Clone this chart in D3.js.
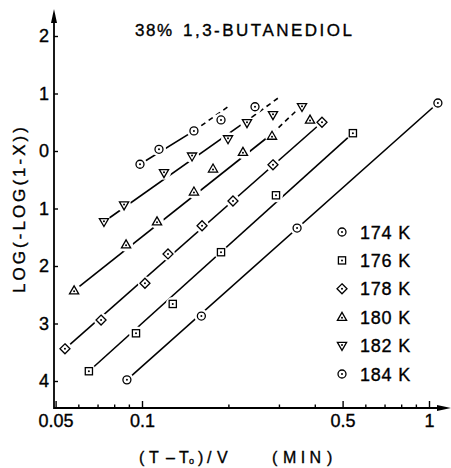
<!DOCTYPE html>
<html lang="en">
<head>
    <meta charset="UTF-8">
    <title>38% 1,3-Butanediol</title>
    <style>
        body { margin: 0; background: #fff; }
        svg { display: block; font-family: "Liberation Sans", Arial, sans-serif; }
        svg text { fill: #000; stroke: #000; stroke-width: 0.35; }
        .axis path.domain { display: none; }
        .axis line { stroke: #000; stroke-width: 1.4; }
        .axis text { font-size: 18px; font-family: "Liberation Sans", Arial, sans-serif; }
        .fit { fill: none; stroke: #000; stroke-width: 1.6; }
        .fit.dash { stroke-dasharray: 5 4; }
        .mark { fill: #fff; stroke: #000; stroke-width: 1.3; }
    </style>
</head>
<body>
    <svg id="chart" width="451" height="468"></svg>

    <script src="https://d3js.org/d3.v7.min.js"></script>
    <script>
        // values
        const temps = ["174 K", "176 K", "178 K", "180 K", "182 K", "184 K"];
        const shapes = ["circle", "square", "diamond", "up", "down", "circle"];

        const x174 = [0.0886, 0.161, 0.347, 1.074];
        const y174 = [-3.98, -2.87, -1.34, 0.835];
        const x176 = [0.0653, 0.0953, 0.128, 0.1885, 0.293, 0.543];
        const y176 = [-3.83, -3.17, -2.66, -1.76, -0.77, 0.31];
        const x178 = [0.0539, 0.072, 0.1024, 0.1232, 0.1619, 0.2075, 0.286, 0.4238];
        const y178 = [-3.44, -2.94, -2.30, -1.79, -1.30, -0.87, -0.24, 0.50];
        const x180 = [0.058, 0.088, 0.1128, 0.1517, 0.1768, 0.2248, 0.2838, 0.385];
        const y180 = [-2.43, -1.63, -1.23, -0.71, -0.31, -0.02, 0.26, 0.54];
        const x182 = [0.0737, 0.0866, 0.1193, 0.1494, 0.1994, 0.2322, 0.286, 0.361];
        const y182 = [-1.23, -0.94, -0.38, -0.09, 0.21, 0.49, 0.63, 0.77];
        const x184 = [0.0984, 0.1146, 0.1517, 0.1885, 0.2476];
        const y184 = [-0.23, 0.03, 0.35, 0.54, 0.77];

        // fitted lines: [x0, y0, x1, y1] solid, optional [x2, y2] dashed extension
        const fit174 = [0.0886, -3.98, 1.074, 0.835];
        const fit176 = [0.0653, -3.83, 0.543, 0.31];
        const fit178 = [0.0539, -3.44, 0.4238, 0.50];
        const fit180 = [0.058, -2.43, 0.2838, 0.30, 0.3467, 0.71];
        const fit182 = [0.0737, -1.23, 0.2416, 0.59, 0.2979, 0.92];
        const fit184 = [0.0984, -0.23, 0.1517, 0.35, 0.1994, 0.77];

        const xTicks = [0.05, 0.1, 0.5, 1];
        const xTickLabels = ["0.05", "0.1", "0.5", "1"];
        const xMinor = [0.06, 0.07, 0.08, 0.09, 0.2, 0.3, 0.4, 0.6, 0.7, 0.8, 0.9];
        const yTicks = [2, 1, 0, -1, -2, -3, -4];
        const yTickLabels = ["2", "1", "0", "1", "2", "3", "4"];

        const series = [
            { x: x174, y: y174, fit: fit174 },
            { x: x176, y: y176, fit: fit176 },
            { x: x178, y: y178, fit: fit178 },
            { x: x180, y: y180, fit: fit180 },
            { x: x182, y: y182, fit: fit182 },
            { x: x184, y: y184, fit: fit184 }
        ];

        const svg = d3.select("#chart");
        const x0 = 54, y0 = 408;

        const x = d3.scaleLog().domain([0.1, 1]).range([142, 429]);
        const y = d3.scaleLinear().domain([-4, 2]).range([381, 36]);

        // axes
        svg.append("g")
            .attr("class", "axis")
            .attr("transform", `translate(0,${y0})`)
            .call(d3.axisBottom(x).tickValues(xMinor).tickSize(-3.5).tickFormat(""));

        svg.append("g")
            .attr("class", "axis")
            .attr("transform", `translate(0,${y0})`)
            .call(d3.axisBottom(x).tickValues(xTicks).tickSize(-7).tickPadding(6)
                .tickFormat((d, i) => xTickLabels[i]));

        svg.append("g")
            .attr("class", "axis")
            .attr("transform", `translate(${x0},0)`)
            .call(d3.axisLeft(y).tickValues(yTicks).tickSize(-4).tickPadding(5)
                .tickFormat((d, i) => yTickLabels[i]));

        svg.append("line").attr("x1", x0).attr("y1", y0).attr("x2", 440).attr("y2", y0)
            .attr("stroke", "#000").attr("stroke-width", 1.8);
        svg.append("line").attr("x1", x0).attr("y1", y0 + 1).attr("x2", x0).attr("y2", 20)
            .attr("stroke", "#000").attr("stroke-width", 1.8);
        svg.append("path").attr("d", `M${x0},9L${x0 + 3},23L${x0 - 3},23Z`).attr("fill", "#000");
        svg.append("path").attr("d", `M451,${y0}L437,${y0 - 3}L437,${y0 + 3}Z`).attr("fill", "#000");

        // fitted lines
        const lines = svg.append("g");
        series.forEach(s => {
            const f = s.fit;
            lines.append("path").attr("class", "fit")
                .attr("d", d3.line()([[x(f[0]), y(f[1])], [x(f[2]), y(f[3])]]));
            if (f.length > 4) {
                lines.append("path").attr("class", "fit dash")
                    .attr("d", d3.line()([[x(f[2]), y(f[3])], [x(f[4]), y(f[5])]]));
            }
        });

        function drawMark(g, kind) {
            if (kind === "circle") {
                g.append("circle").attr("class", "mark").attr("r", 4);
            } else if (kind === "square") {
                g.append("rect").attr("class", "mark").attr("x", -3.6).attr("y", -3.6)
                    .attr("width", 7.2).attr("height", 7.2);
            } else if (kind === "diamond") {
                g.append("path").attr("class", "mark").attr("d", "M0,-5L5,0L0,5L-5,0Z");
            } else if (kind === "up") {
                g.append("path").attr("class", "mark").attr("d", "M0,-4.8L4.6,3.2L-4.6,3.2Z");
            } else {
                g.append("path").attr("class", "mark").attr("d", "M0,4.8L4.6,-3.2L-4.6,-3.2Z");
            }
            g.append("circle").attr("r", 1).attr("fill", "#000")
                .attr("cy", kind === "up" ? 0.6 : kind === "down" ? -0.6 : 0);
        }

        // white halos break the lines around each marker
        const halos = svg.append("g");
        const marks = svg.append("g");
        series.forEach((s, si) => {
            s.x.forEach((v, i) => {
                halos.append("circle").attr("cx", x(v)).attr("cy", y(s.y[i]))
                    .attr("r", 7).attr("fill", "#fff");
                const g = marks.append("g").attr("transform", `translate(${x(v)},${y(s.y[i])})`);
                drawMark(g, shapes[si]);
            });
        });

        // legend
        temps.forEach((t, i) => {
            const ly = 232 + i * 28.4;
            drawMark(svg.append("g").attr("transform", `translate(342,${ly})`), shapes[i]);
            svg.append("text").attr("x", 360).attr("y", ly + 6.5)
                .attr("font-size", 18).attr("letter-spacing", 0.8).text(t);
        });

        // title
        svg.append("text").attr("x", 135).attr("y", 36).attr("font-size", 17)
            .attr("textLength", 37).attr("lengthAdjust", "spacing").text("38%");
        svg.append("text").attr("x", 183).attr("y", 36).attr("font-size", 17)
            .attr("textLength", 169).attr("lengthAdjust", "spacing").text("1,3-BUTANEDIOL");

        // axis titles
        svg.append("text")
            .attr("transform", "translate(25,210) rotate(-90)")
            .attr("text-anchor", "middle").attr("font-size", 17)
            .attr("textLength", 166).attr("lengthAdjust", "spacing")
            .text("LOG(-LOG(1-X))");

        const xTitle = [["(", 139], ["T", 149], ["–", 166], ["T", 179], [")", 198], ["/", 207],
                        ["V", 217], ["(", 272], ["MIN", 283], [")", 327]];
        xTitle.forEach(([s, px]) => {
            const t = svg.append("text").attr("x", px).attr("y", 463).attr("font-size", 16).text(s);
            if (s === "MIN") t.attr("textLength", 38).attr("lengthAdjust", "spacing");
        });
        svg.append("text").attr("x", 189).attr("y", 464).attr("font-size", 9).text("o");
    </script>
</body>
</html>
